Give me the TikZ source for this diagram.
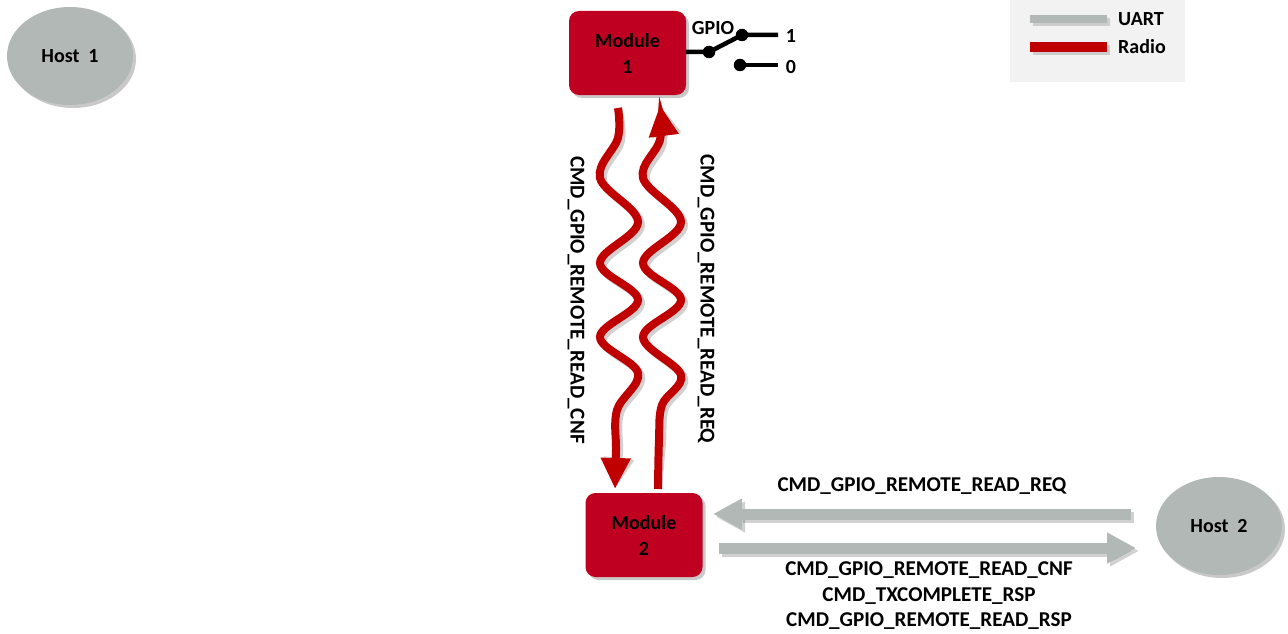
\documentclass[tikz,border=0pt]{standalone}
\usepackage{fontspec}
\setmainfont{Carlito}
\usetikzlibrary{shapes.geometric,arrows.meta,shadows}
\definecolor{modred}{RGB}{192,0,32}
\definecolor{radiored}{RGB}{192,0,0}
\definecolor{uartgray}{RGB}{178,184,181}
\definecolor{hostgray}{RGB}{178,184,181}
\definecolor{legbg}{RGB}{242,242,242}
\newcommand{\lblfont}{\fontsize{20}{26}\selectfont\bfseries}
\newcommand{\cmdfont}{\fontsize{21.1}{26}\selectfont\bfseries}
\begin{document}
\begin{tikzpicture}[x=1pt,y=-1pt,
  softshadow/.style={drop shadow={shadow xshift=3pt,shadow yshift=-3pt,opacity=0.3,fill=black!70}},
  module/.style={rectangle,rounded corners=10pt,fill=modred,minimum width=117pt,minimum height=84pt,align=center,font=\lblfont,inner sep=0pt,softshadow},
  host/.style={ellipse,fill=hostgray,minimum width=126pt,minimum height=98pt,font=\lblfont,inner sep=0pt,softshadow},
  lbl/.style={font=\lblfont,inner sep=0pt},
  cmd/.style={font=\cmdfont,inner sep=0pt},
  radiowave/.style={draw=radiored,line width=8pt,-{Triangle[width=28pt,length=31pt]}},
  radioshadow/.style={draw=black,opacity=0.18,line width=8pt,-{Triangle[width=28pt,length=31pt]}},
  uart/.style={draw=uartgray,line width=11pt,-{Triangle[width=29pt,length=29pt]}},
  uartshadow/.style={draw=black,opacity=0.18,line width=11pt,-{Triangle[width=29pt,length=29pt]}},
  wire/.style={draw=black,line width=4.5pt},
  dot/.style={circle,fill=black,inner sep=0pt,minimum size=12.5pt}
]
\useasboundingbox (0,0) rectangle (1288,634);

% legend
\fill[legbg] (1010,0) rectangle (1185,82);
\draw[line width=8pt,black,opacity=0.15] (1033,22) -- (1110,22);
\draw[line width=8pt,uartgray] (1030,19) -- (1107,19);
\draw[line width=10pt,black,opacity=0.15] (1033,50) -- (1110,50);
\draw[line width=10pt,radiored] (1030,47) -- (1107,47);
\node[lbl,anchor=west] (lgu) at (1118,19) {UART};
\node[lbl,anchor=west] (lgr) at (1118,47) {Radio};

% nodes
\node[host] (h1) at (70,56) {Host~~1};
\node[host] (h2) at (1219,526) {Host~~2};
\node[module] (m1) at (627.5,53) {Module\\1};
\node[module] (m2) at (644,535) {Module\\2};

% switch
\node[dot] (s0) at (709,52) {};
\node[dot] (s1) at (742,35) {};
\node[dot] (s2) at (740,65) {};
\coordinate (e1) at (778,35);
\coordinate (e2) at (778,65);
\draw[wire] (m1.east |- s0) -- (s0.center) -- (s1.center) -- (e1);
\draw[wire] (s2.center) -- (e2);
\node[lbl] (g) at (713,28) {GPIO};
\node[lbl] (n1) at (791,36) {1};
\node[lbl] (n0) at (791,67) {0};

% radio waves
\coordinate (w1s) at (618,108);
\coordinate (w1e) at (615,489);
\coordinate (w2s) at (658,489);
\coordinate (w2e) at (660,105);
\begin{scope}[shift={(3,3)}]
\draw[radioshadow] plot[smooth,tension=0.6] coordinates {(w1s) (618,138) (600,178) (638,222) (600,263) (638,300) (600,337) (638,373) (617,410) (616,450) (w1e)};
\draw[radioshadow] plot[smooth,tension=0.6] coordinates {(w2s) (659,440) (662,405) (681,375) (643,337) (681,300) (643,263) (681,222) (643,178) (660,140) (w2e)};
\end{scope}
\draw[radiowave] plot[smooth,tension=0.6] coordinates {(w1s) (618,138) (600,178) (638,222) (600,263) (638,300) (600,337) (638,373) (617,410) (616,450) (w1e)};
\draw[radiowave] plot[smooth,tension=0.6] coordinates {(w2s) (659,440) (662,405) (681,375) (643,337) (681,300) (643,263) (681,222) (643,178) (660,140) (w2e)};

\node[cmd,rotate=-90] (l1) at (576,300) {CMD\_GPIO\_REMOTE\_READ\_CNF};
\node[cmd,rotate=-90] (l2) at (706,299) {CMD\_GPIO\_REMOTE\_READ\_REQ};

% uart arrows
\coordinate (u1s) at (1131,514);
\coordinate (u1e) at (713,514);
\coordinate (u2s) at (719,548);
\coordinate (u2e) at (1136,548);
\draw[uartshadow] ([shift={(3,3)}]u1s) -- ([shift={(3,3)}]u1e);
\draw[uartshadow] ([shift={(3,3)}]u2s) -- ([shift={(3,3)}]u2e);
\draw[uart] (u1s) -- (u1e);
\draw[uart] (u2s) -- (u2e);

\node[cmd] (t1) at (922,486) {CMD\_GPIO\_REMOTE\_READ\_REQ};
\node[cmd] (t2) at (929,570) {CMD\_GPIO\_REMOTE\_READ\_CNF};
\node[cmd] (t3) at (929,596) {CMD\_TXCOMPLETE\_RSP};
\node[cmd] (t4) at (929,621) {CMD\_GPIO\_REMOTE\_READ\_RSP};
\end{tikzpicture}
\end{document}
